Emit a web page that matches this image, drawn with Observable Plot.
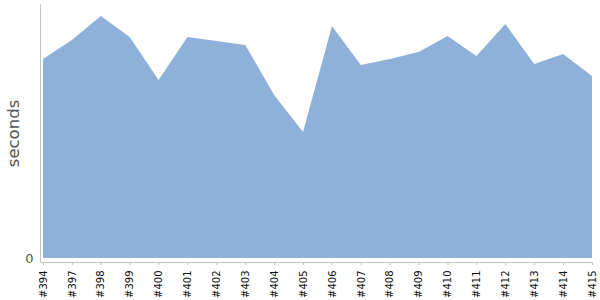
<!DOCTYPE html>
<html>
<head>
<meta charset="utf-8">
<script src="https://cdn.jsdelivr.net/npm/d3@7"></script>
<script src="https://cdn.jsdelivr.net/npm/@observablehq/plot@0.6"></script>
<style>
  html, body { margin: 0; padding: 0; background: #fff; }
  #chart svg { display: block; }
</style>
</head>
<body>
<div id="chart"></div>
<script>
const builds = ["#394","#397","#398","#399","#400","#401","#402","#403","#404","#405","#406","#407","#408","#409","#410","#411","#412","#413","#414","#415"];
const seconds = [199, 218, 242, 221, 178, 221, 217, 213, 163, 126, 232, 193, 199, 206, 222, 202, 234, 194, 204, 182];
const yTicks = [0];
const yLabel = "seconds";

const data = builds.map((b, i) => ({build: b, seconds: seconds[i]}));

const chart = Plot.plot({
  width: 600,
  height: 300,
  marginLeft: 40,
  marginRight: 8,
  marginTop: 4,
  marginBottom: 38,
  style: {fontFamily: "DejaVu Sans", background: "#fff"},
  x: {type: "point", domain: builds, padding: 0, round: false, range: [43, 592]},
  y: {domain: [0, 254], range: [258, 4]},
  marks: [
    Plot.areaY(data, {x: "build", y: "seconds", fill: "#8fb1d9"}),
    Plot.frame({anchor: "left", stroke: "#c4c4c4"}),
    Plot.frame({anchor: "bottom", stroke: "#c4c4c4"}),
    Plot.axisY({ticks: yTicks, tickSize: 0, tickPadding: 7, fontSize: 13, fill: "#555", label: null}),
    Plot.axisX({tickSize: 3, stroke: "#c4c4c4", text: null, label: null}),
    Plot.axisX({tickSize: 0, tickPadding: 8, tickRotate: -90, fontSize: 10, fill: "#111", label: null}),
    Plot.text([yLabel], {frameAnchor: "left", dx: -27, rotate: -90, textAnchor: "middle", text: d => d, fontSize: 16.5, fill: "#555"})
  ]
});
document.getElementById("chart").appendChild(chart);
</script>
</body>
</html>
